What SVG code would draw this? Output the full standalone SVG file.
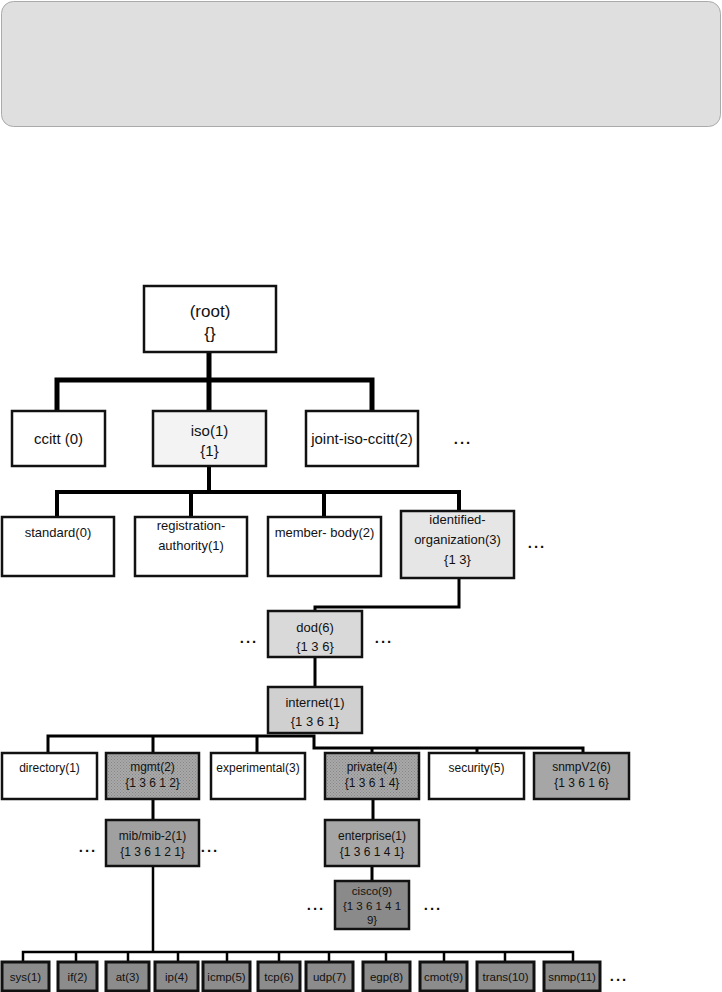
<svg xmlns="http://www.w3.org/2000/svg" width="722" height="992" viewBox="0 0 722 992">
<style>
text{font-family:"Liberation Sans",Arial,sans-serif;fill:#111;text-anchor:middle}
.b{stroke:#111;stroke-width:2.5}
.w{fill:#fff}
.t1{font-size:17px}
.t2{font-size:15px}
.t3{font-size:13px}
.t4{font-size:12px}
.t5{font-size:11.5px}
.bot{fill:#8c8c8c;stroke:#111;stroke-width:3}
.c{fill:none;stroke:#000;stroke-linejoin:miter}
.dots{font-size:15px;font-weight:bold;letter-spacing:2px}
</style>
<defs>
<pattern id="hatch" width="3" height="3" patternUnits="userSpaceOnUse">
<rect width="3" height="3" fill="#a9a9a9"/>
<rect width="1" height="1" fill="#858585"/>
<rect x="1.5" y="1.5" width="1" height="1" fill="#858585"/>
</pattern>
</defs>
<rect x="1.5" y="1.5" width="719" height="125" rx="12" fill="#dfdfdf" stroke="#aaa" stroke-width="1"/>
<g id="connectors">
<path class="c" stroke-width="5" d="M209,352V380M57,411V380H372V411M209,380V411"/>
<path class="c" stroke-width="4" d="M209,466V492M57,517V492H459V511M191,492V517M324,492V517"/>
<path class="c" stroke-width="3" d="M459,578V607H315V611M315,657V687"/>
<path class="c" stroke-width="3" d="M48,753V736H314V748H583V753M153,736V753M257,736V753M372,748V753M477,748V753"/>
<path class="c" stroke-width="3" d="M153,799V820M373,799V820M372,866V881"/>
<path class="c" stroke-width="2.5" d="M153,866V952M23,962V952H573V962M76,952V962M128,952V962M178,952V962M227,952V962M279,952V962M329,952V962M386,952V962M444,952V962M505,952V962"/>
</g>
<g id="root"><rect class="b w" x="144" y="286" width="132" height="66"/><text class="t1" x="210" y="317">(root)</text><text class="t1" x="210" y="339">{}</text></g>
<g id="ccitt"><rect class="b w" x="12" y="411" width="93" height="55"/><text class="t2" x="58.5" y="444">ccitt (0)</text></g>
<g id="iso"><rect class="b" fill="#f3f3f3" x="153" y="411" width="113" height="55"/><text class="t2" x="209.5" y="436">iso(1)</text><text class="t2" x="209.5" y="456">{1}</text></g>
<g id="joint"><rect class="b w" x="306" y="411" width="112" height="55"/><text class="t2" x="362" y="444">joint-iso-ccitt(2)</text></g>
<text class="dots" x="463" y="444">...</text>
<g id="standard"><rect class="b w" x="2" y="517" width="112" height="59"/><text class="t3" x="58" y="537">standard(0)</text></g>
<g id="registration"><rect class="b w" x="135" y="517" width="112" height="59"/><text class="t3" x="191" y="530">registration-</text><text class="t3" x="191" y="550">authority(1)</text></g>
<g id="member"><rect class="b w" x="268" y="517" width="113" height="59"/><text class="t3" x="324.5" y="537">member- body(2)</text></g>
<g id="identified"><rect class="b" fill="#e6e6e6" x="401" y="511" width="113" height="67"/><text class="t3" x="457.5" y="524">identified-</text><text class="t3" x="457.5" y="544">organization(3)</text><text class="t3" x="457.5" y="564">{1 3}</text></g>
<text class="dots" x="537" y="548">...</text>
<g id="dod"><rect class="b" fill="#d9d9d9" x="268" y="611" width="94" height="46"/><text class="t3" x="315" y="632">dod(6)</text><text class="t3" x="315" y="651">{1 3 6}</text></g>
<text class="dots" x="249" y="643">...</text>
<text class="dots" x="384" y="643">...</text>
<g id="internet"><rect class="b" fill="#d0d0d0" x="268" y="687" width="94" height="46"/><text class="t3" x="315" y="707">internet(1)</text><text class="t3" x="315" y="726">{1 3 6 1}</text></g>
<g id="directory"><rect class="b w" x="2" y="753" width="95" height="46"/><text class="t4" x="49.5" y="772">directory(1)</text></g>
<g id="mgmt"><rect class="b" fill="url(#hatch)" x="106" y="753" width="93" height="46"/><text class="t4" x="152.5" y="771">mgmt(2)</text><text class="t4" x="152.5" y="787">{1 3 6 1 2}</text></g>
<g id="experimental"><rect class="b w" x="211" y="753" width="94" height="46"/><text class="t4" x="258" y="772">experimental(3)</text></g>
<g id="private"><rect class="b" fill="url(#hatch)" x="325" y="753" width="94" height="46"/><text class="t4" x="372" y="771">private(4)</text><text class="t4" x="372" y="787">{1 3 6 1 4}</text></g>
<g id="security"><rect class="b w" x="429" y="753" width="95" height="46"/><text class="t4" x="476.5" y="772">security(5)</text></g>
<g id="snmpV2"><rect class="b" fill="#a6a6a6" x="534" y="753" width="95" height="46"/><text class="t4" x="581.5" y="771">snmpV2(6)</text><text class="t4" x="581.5" y="787">{1 3 6 1 6}</text></g>
<g id="mib"><rect class="b" fill="#a0a0a0" x="106" y="820" width="93" height="46"/><text class="t4" x="152.5" y="840">mib/mib-2(1)</text><text class="t4" x="152.5" y="856">{1 3 6 1 2 1}</text></g>
<text class="dots" x="88" y="852">...</text>
<text class="dots" x="210" y="852">...</text>
<g id="enterprise"><rect class="b" fill="#a6a6a6" x="325" y="820" width="94" height="46"/><text class="t4" x="372" y="840">enterprise(1)</text><text class="t4" x="372" y="856">{1 3 6 1 4 1}</text></g>
<g id="cisco"><rect class="b" fill="#8a8a8a" x="335" y="881" width="74" height="48"/><text class="t5" x="372" y="895">cisco(9)</text><text class="t5" x="372" y="910">{1 3 6 1 4 1</text><text class="t5" x="372" y="924">9}</text></g>
<text class="dots" x="316" y="910">...</text>
<text class="dots" x="433" y="910">...</text>
<g id="sys"><rect class="bot" x="2" y="962" width="47" height="29"/><text class="t5" x="25.5" y="981">sys(1)</text></g>
<g id="if"><rect class="bot" x="58" y="962" width="39" height="29"/><text class="t5" x="77.5" y="981">if(2)</text></g>
<g id="at"><rect class="bot" x="106" y="962" width="43" height="29"/><text class="t5" x="127.5" y="981">at(3)</text></g>
<g id="ip"><rect class="bot" x="155" y="962" width="43" height="29"/><text class="t5" x="176.5" y="981">ip(4)</text></g>
<g id="icmp"><rect class="bot" x="203" y="962" width="47" height="29"/><text class="t5" x="226.5" y="981">icmp(5)</text></g>
<g id="tcp"><rect class="bot" x="258" y="962" width="42" height="29"/><text class="t5" x="279" y="981">tcp(6)</text></g>
<g id="udp"><rect class="bot" x="306" y="962" width="47" height="29"/><text class="t5" x="329.5" y="981">udp(7)</text></g>
<g id="egp"><rect class="bot" x="363" y="962" width="47" height="29"/><text class="t5" x="386.5" y="981">egp(8)</text></g>
<g id="cmot"><rect class="bot" x="420" y="962" width="47" height="29"/><text class="t5" x="443.5" y="981">cmot(9)</text></g>
<g id="trans"><rect class="bot" x="477" y="962" width="57" height="29"/><text class="t5" x="505.5" y="981">trans(10)</text></g>
<g id="snmp"><rect class="bot" x="544" y="962" width="56" height="29"/><text class="t5" x="572" y="981">snmp(11)</text></g>
<text class="dots" x="619" y="981">...</text>
</svg>
